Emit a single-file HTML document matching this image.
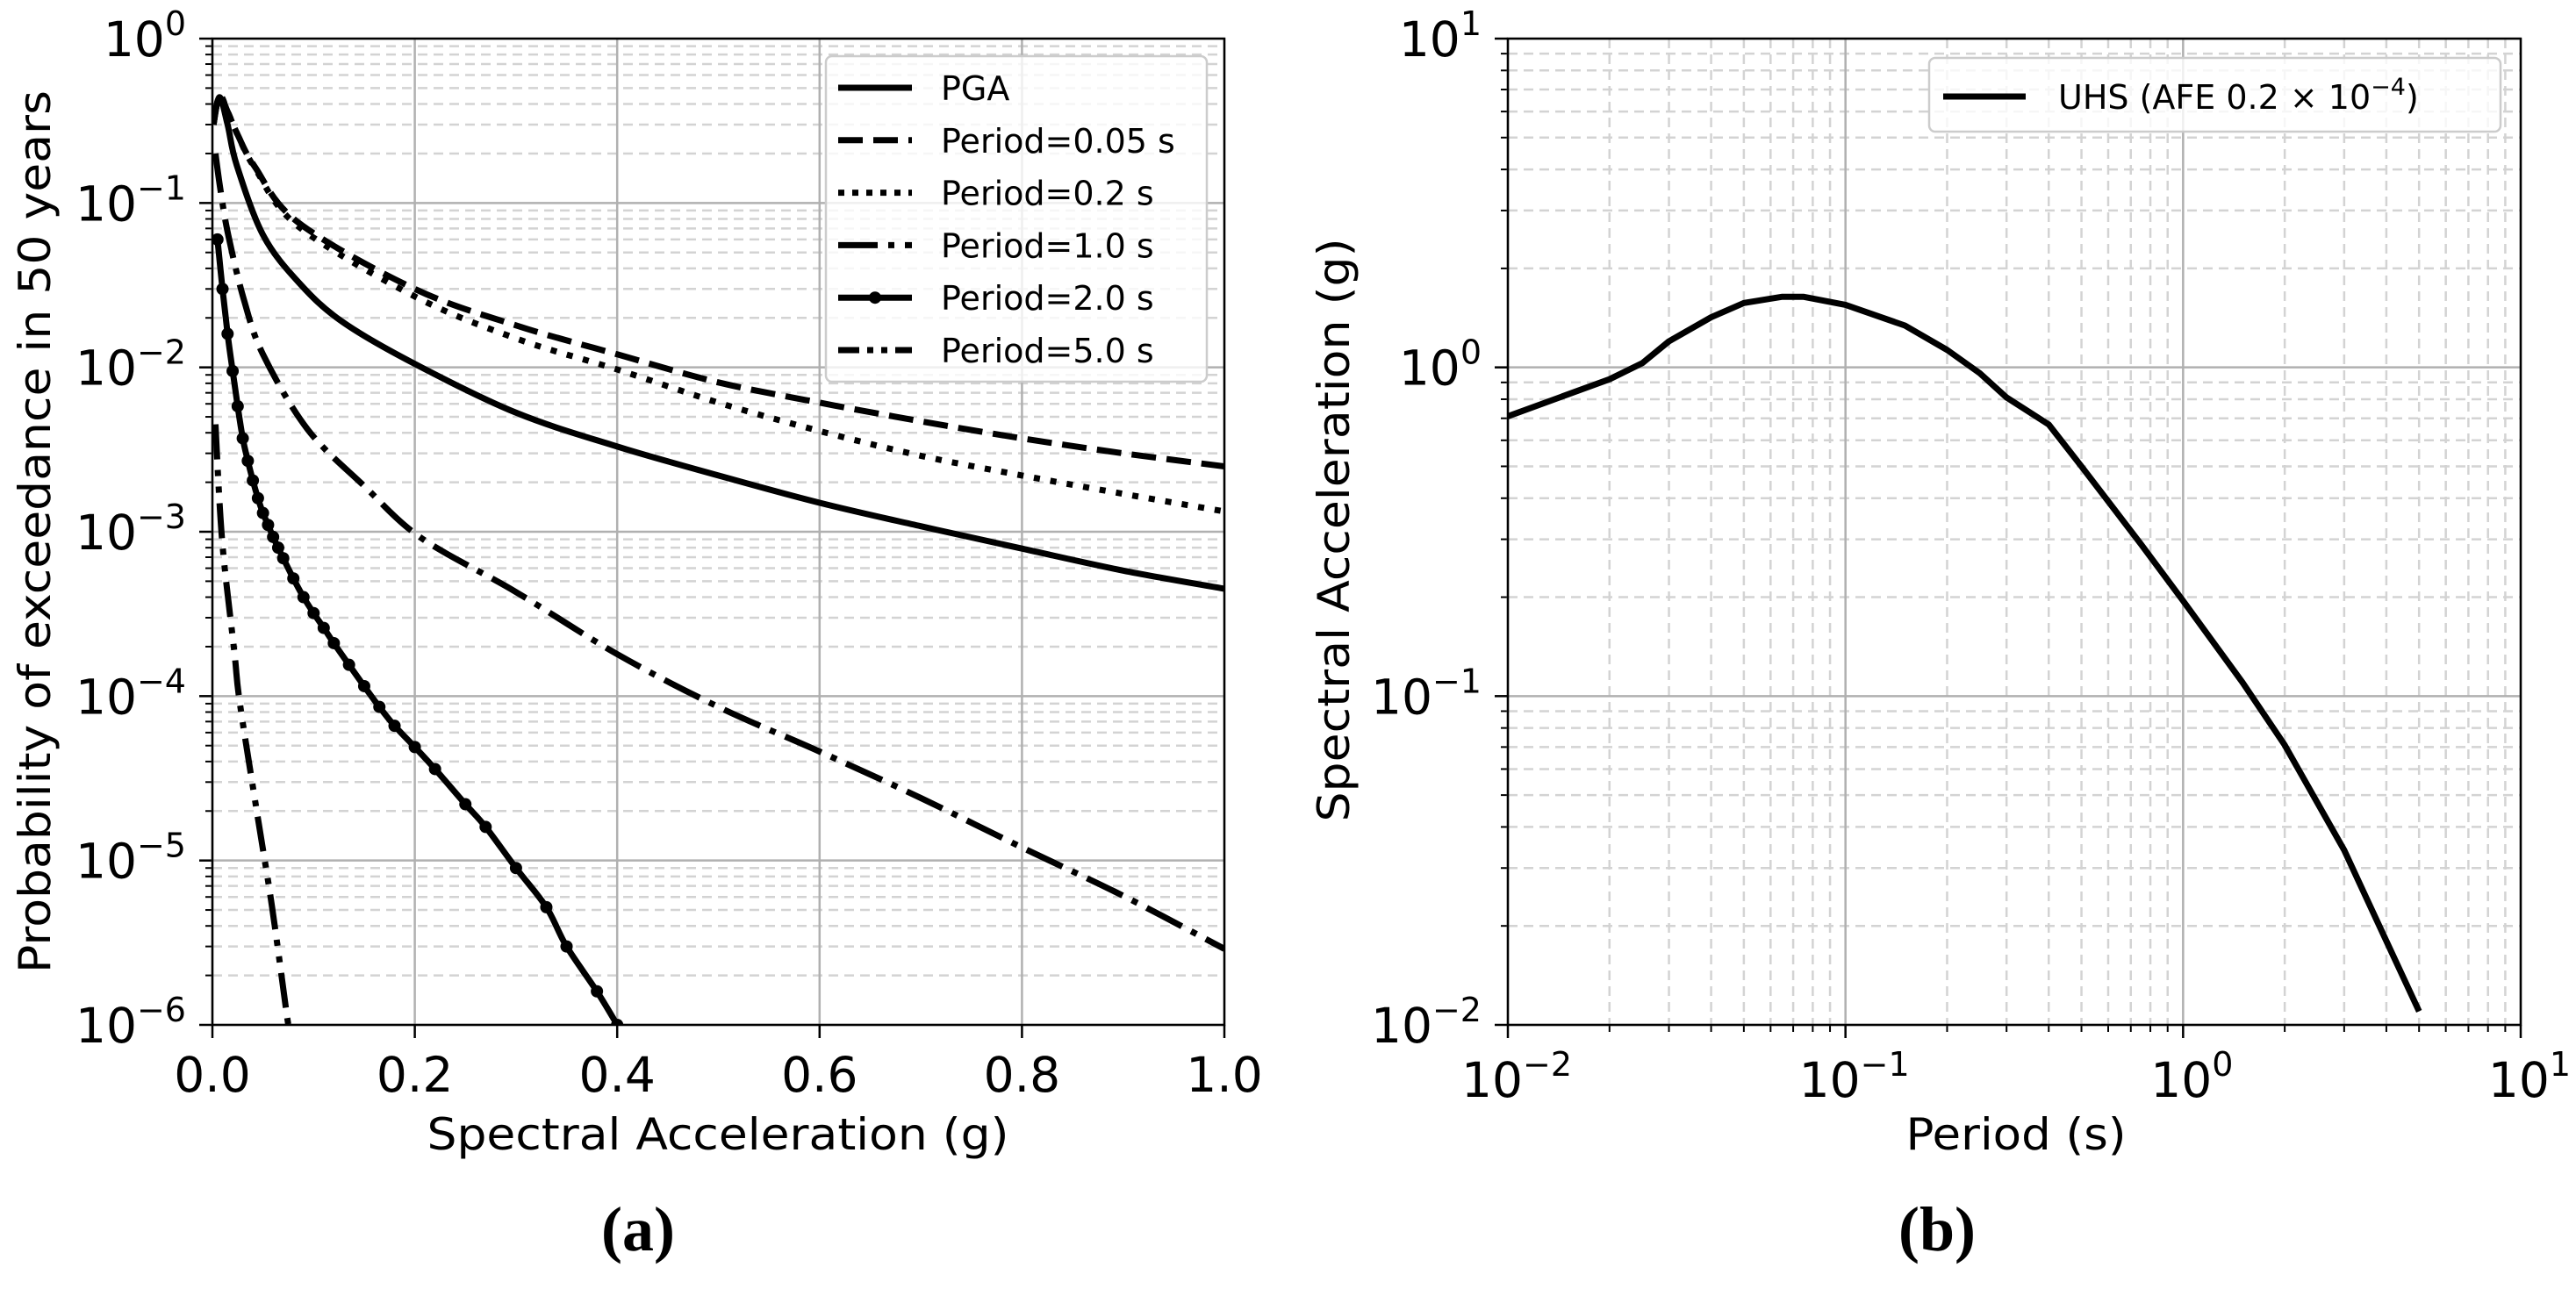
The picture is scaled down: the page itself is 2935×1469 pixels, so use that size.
<!DOCTYPE html>
<html><head><meta charset="utf-8"><style>
html,body{margin:0;padding:0;background:#fff;}
svg{display:block;font-family:"DejaVu Sans","Liberation Sans",sans-serif;}
</style></head><body>
<svg id="fig" width="2935" height="1469" viewBox="0 0 2935 1469" xmlns="http://www.w3.org/2000/svg"></svg>
<script>
// ---- Panel (a) data ----
const pgaX = [0.001,0.007,0.015,0.024,0.05,0.085,0.128,0.2,0.3,0.4,0.5,0.6,0.7,0.8,0.9,1.0];
const pgaY = [0.3,0.44,0.30,0.17,0.064,0.033,0.019,0.0105,5.3e-3,3.3e-3,2.2e-3,1.5e-3,1.08e-3,7.9e-4,5.8e-4,4.5e-4];
const p005X = [0.001,0.007,0.015,0.025,0.042,0.085,0.2,0.3,0.4,0.5,0.6,0.7,0.8,0.9,1.0];
const p005Y = [0.3,0.45,0.36,0.26,0.166,0.076,0.03,0.018,0.012,8.1e-3,6.1e-3,4.7e-3,3.7e-3,3.0e-3,2.5e-3];
const p02X = [0.001,0.007,0.015,0.025,0.042,0.085,0.2,0.3,0.4,0.5,0.6,0.7,0.8,0.9,1.0];
const p02Y = [0.3,0.45,0.36,0.26,0.163,0.072,0.027,0.015,9.7e-3,6.1e-3,4.1e-3,2.9e-3,2.2e-3,1.7e-3,1.33e-3];
const p1X = [0.003,0.008,0.0156,0.031,0.05,0.094,0.15,0.206,0.3,0.4,0.5,0.6,0.7,0.8,0.9,1.0];
const p1Y = [0.2,0.12,0.064,0.026,0.012,4.2e-3,1.9e-3,9.2e-4,4.3e-4,1.8e-4,8.6e-5,4.6e-5,2.4e-5,1.2e-5,6.1e-6,2.9e-6];
const p2X = [0.005,0.01,0.015,0.02,0.025,0.03,0.035,0.04,0.045,0.05,0.055,0.06,0.065,0.07,0.08,0.09,0.1,0.11,0.12,0.135,0.15,0.165,0.18,0.2,0.22,0.25,0.27,0.3,0.33,0.35,0.38,0.4];
const p2Y = [0.06,0.03,0.016,0.0095,5.8e-3,3.7e-3,2.7e-3,2.05e-3,1.6e-3,1.3e-3,1.1e-3,9.3e-4,8e-4,6.9e-4,5.2e-4,4e-4,3.2e-4,2.6e-4,2.1e-4,1.55e-4,1.15e-4,8.6e-5,6.6e-5,4.9e-5,3.6e-5,2.2e-5,1.6e-5,9e-6,5.2e-6,3e-6,1.6e-6,1e-6];
const p5X = [0.003,0.0097,0.0217,0.027,0.045,0.059,0.074,0.076];
const p5Y = [4.5e-3,8.7e-4,1.86e-4,9.2e-5,1.8e-5,5.2e-6,1.1e-6,1e-6];
const aXTicks = [0,0.2,0.4,0.6,0.8,1.0];
const aXTickLabels = ["0.0","0.2","0.4","0.6","0.8","1.0"];
const aYExps = [0,-1,-2,-3,-4,-5,-6];
// ---- Panel (b) data ----
const uhsT = [0.01,0.02,0.025,0.03,0.04,0.05,0.065,0.075,0.1,0.15,0.2,0.25,0.3,0.4,0.5,0.75,1.0,1.5,2.0,3.0,4.0,5.0];
const uhsSA = [0.71,0.92,1.03,1.2,1.42,1.57,1.64,1.64,1.55,1.34,1.13,0.96,0.81,0.67,0.50,0.29,0.195,0.11,0.071,0.034,0.018,0.011];
const bExps = [-2,-1,0,1];

const NS="http://www.w3.org/2000/svg";
const svg=document.getElementById('fig');
function mk(tag,attrs,parent){const e=document.createElementNS(NS,tag);for(const k in attrs)e.setAttribute(k,attrs[k]);(parent||svg).appendChild(e);return e;}

const A={l:242,r:1395,t:44,b:1168};
const B={l:1718,r:2872,t:44,b:1168};
const ax=v=>A.l+(v-0)/(1-0)*(A.r-A.l);
const ay=v=>A.b-(Math.log10(v)+6)/6*(A.b-A.t);
const bx=v=>B.l+(Math.log10(v)+2)/3*(B.r-B.l);
const by=v=>B.b-(Math.log10(v)+2)/3*(B.b-B.t);

function smoothPath(P){
  let d='M'+P[0][0].toFixed(1)+','+P[0][1].toFixed(1);
  for(let i=0;i<P.length-1;i++){
    const p0=P[Math.max(0,i-1)],p1=P[i],p2=P[i+1],p3=P[Math.min(P.length-1,i+2)];
    const c1=[p1[0]+(p2[0]-p0[0])/6,p1[1]+(p2[1]-p0[1])/6];
    const c2=[p2[0]-(p3[0]-p1[0])/6,p2[1]-(p3[1]-p1[1])/6];
    d+=' C'+c1[0].toFixed(1)+','+c1[1].toFixed(1)+' '+c2[0].toFixed(1)+','+c2[1].toFixed(1)+' '+p2[0].toFixed(1)+','+p2[1].toFixed(1);
  }
  return d;
}

function supLabel(parent,x,y,exp,anchor){
  const t=mk('text',{x:x,y:y,'font-size':55,'text-anchor':anchor,fill:'#000'},parent);
  t.appendChild(document.createTextNode('10'));
  const s=mk('tspan',{'font-size':38,dy:-24},t);
  s.textContent=(exp<0?'\u2212':'')+Math.abs(exp);
  return t;
}

// ===== Panel A =====
const gA=mk('g',{});


const gridA=mk('g',{},gA);


for(let e=-6;e<0;e++){for(let m=2;m<=9;m++){const y=ay(m*Math.pow(10,e));
  mk('line',{x1:A.l,x2:A.r,y1:y,y2:y,stroke:'#d3d3d3','stroke-width':2.5,'stroke-dasharray':'11 7'},gridA);
  mk('line',{x1:A.l-8,x2:A.l,y1:y,y2:y,stroke:'#000','stroke-width':2},gridA);}}
aYExps.forEach(e=>{const y=ay(Math.pow(10,e));
  mk('line',{x1:A.l,x2:A.r,y1:y,y2:y,stroke:'#b0b0b0','stroke-width':2.5},gridA);
  mk('line',{x1:A.l-15,x2:A.l,y1:y,y2:y,stroke:'#000','stroke-width':2.5},gridA);
  const t=supLabel(gA,212,y+20,e,'end');
  
  
});
aXTicks.forEach((v,i)=>{const x=ax(v);
  mk('line',{x1:x,x2:x,y1:A.t,y2:A.b,stroke:'#b0b0b0','stroke-width':2.5},gridA);
  mk('line',{x1:x,x2:x,y1:A.b,y2:A.b+15,stroke:'#000','stroke-width':2.5},gridA);
  const t=mk('text',{x:x,y:A.b+76,'font-size':55,'text-anchor':'middle'},gA);
  t.textContent=aXTickLabels[i];
  
  
});
const clipA=mk('clipPath',{id:'clipA'},gA);mk('rect',{x:A.l,y:A.t,width:A.r-A.l,height:A.b-A.t},clipA);
const seriesA=[
  {n:'pga',x:pgaX,y:pgaY,d:''},
  {n:'period-0.05s',x:p005X,y:p005Y,d:'28 12'},
  {n:'period-0.2s',x:p02X,y:p02Y,d:'7 12'},
  {n:'period-1.0s',x:p1X,y:p1Y,d:'45 12 7 12'},
  {n:'period-2.0s',x:p2X,y:p2Y,d:'',m:true},
  {n:'period-5.0s',x:p5X,y:p5Y,d:'40 12 7 12 7 12'}
];
const linesA=mk('g',{'clip-path':'url(#clipA)'},gA);
seriesA.forEach(s=>{
  const P=s.x.map((v,i)=>[ax(v),ay(s.y[i])]);
  const p=mk('path',{d:smoothPath(P),fill:'none',stroke:'#000','stroke-width':7,'stroke-linejoin':'round'},linesA);
  if(s.d)p.setAttribute('stroke-dasharray',s.d);
  
  
  if(s.m){s.x.forEach((v,i)=>{const c=mk('circle',{cx:ax(v),cy:ay(s.y[i]),r:7,fill:'#000'},linesA);
    
    });}
});
mk('rect',{x:A.l,y:A.t,width:A.r-A.l,height:A.b-A.t,fill:'none',stroke:'#000','stroke-width':2.5},gA);
const legA=mk('g',{},gA);


mk('rect',{x:941,y:64,width:434,height:371,rx:7,fill:'#fff','fill-opacity':0.8,stroke:'#ccc','stroke-width':2.5},legA);
const legLabels=['PGA','Period=0.05 s','Period=0.2 s','Period=1.0 s','Period=2.0 s','Period=5.0 s'];
const legDash=['','28 12','7 9','45 12 7 12','','24 9 7 9 7 9'];
legLabels.forEach((lab,i)=>{const y=100+i*59.8;
  const g=mk('g',{},legA);
  
  
  const l=mk('line',{x1:955,x2:1039,y1:y,y2:y,stroke:'#000','stroke-width':7},g);
  if(legDash[i])l.setAttribute('stroke-dasharray',legDash[i]);
  if(i===4)mk('circle',{cx:997,cy:y,r:7,fill:'#000'},g);
  const t=mk('text',{x:1072,y:y+14,'font-size':38},g);t.textContent=lab;
});
let t=mk('text',{x:0,y:0,'font-size':50,'text-anchor':'middle',transform:'translate(57,606) rotate(-90)',textLength:1006,lengthAdjust:'spacingAndGlyphs'},gA);
t.textContent='Probability of exceedance in 50 years';

t=mk('text',{x:818,y:1310,'font-size':50,'text-anchor':'middle',textLength:663,lengthAdjust:'spacingAndGlyphs'},gA);
t.textContent='Spectral Acceleration (g)';

t=mk('text',{x:727,y:1425,'font-size':72,'font-weight':'bold','text-anchor':'middle','font-family':'"Liberation Serif",serif'},gA);
t.textContent='(a)';


// ===== Panel B =====
const gB=mk('g',{});


const gridB=mk('g',{},gB);


for(let e=-2;e<1;e++){for(let m=2;m<=9;m++){const v=m*Math.pow(10,e);const y=by(v),x=bx(v);
  mk('line',{x1:B.l,x2:B.r,y1:y,y2:y,stroke:'#d3d3d3','stroke-width':2.5,'stroke-dasharray':'11 7'},gridB);
  mk('line',{x1:x,x2:x,y1:B.t,y2:B.b,stroke:'#d3d3d3','stroke-width':2.5,'stroke-dasharray':'11 7'},gridB);
  mk('line',{x1:B.l-8,x2:B.l,y1:y,y2:y,stroke:'#000','stroke-width':2},gridB);
  mk('line',{x1:x,x2:x,y1:B.b,y2:B.b+8,stroke:'#000','stroke-width':2},gridB);}}
bExps.forEach(e=>{const v=Math.pow(10,e);const y=by(v),x=bx(v);
  mk('line',{x1:B.l,x2:B.r,y1:y,y2:y,stroke:'#b0b0b0','stroke-width':2.5},gridB);
  mk('line',{x1:x,x2:x,y1:B.t,y2:B.b,stroke:'#b0b0b0','stroke-width':2.5},gridB);
  mk('line',{x1:B.l-15,x2:B.l,y1:y,y2:y,stroke:'#000','stroke-width':2.5},gridB);
  mk('line',{x1:x,x2:x,y1:B.b,y2:B.b+15,stroke:'#000','stroke-width':2.5},gridB);
  let a=supLabel(gB,1688,y+20,e,'end');
  let b=supLabel(gB,x+10,B.b+82,e,'middle');
});
const uhs=mk('polyline',{points:uhsT.map((v,i)=>bx(v).toFixed(1)+','+by(uhsSA[i]).toFixed(1)).join(' '),fill:'none',stroke:'#000','stroke-width':7,'stroke-linejoin':'round'},gB);


mk('rect',{x:B.l,y:B.t,width:B.r-B.l,height:B.b-B.t,fill:'none',stroke:'#000','stroke-width':2.5},gB);
const legB=mk('g',{},gB);


mk('rect',{x:2198,y:66,width:651,height:84,rx:7,fill:'#fff','fill-opacity':0.8,stroke:'#ccc','stroke-width':2.5},legB);
mk('line',{x1:2214,x2:2308,y1:110,y2:110,stroke:'#000','stroke-width':7},legB);
t=mk('text',{x:2345,y:124,'font-size':38},legB);
t.appendChild(document.createTextNode('UHS (AFE 0.2 \u00d7 10'));
let sp=mk('tspan',{'font-size':27,dy:-16},t);sp.textContent='\u22124';
sp=mk('tspan',{dy:16},t);sp.textContent=')';
t=mk('text',{x:0,y:0,'font-size':50,'text-anchor':'middle',transform:'translate(1537,604) rotate(-90)',textLength:665,lengthAdjust:'spacingAndGlyphs'},gB);
t.textContent='Spectral Acceleration (g)';

t=mk('text',{x:2297,y:1310,'font-size':50,'text-anchor':'middle',textLength:251,lengthAdjust:'spacingAndGlyphs'},gB);
t.textContent='Period (s)';

t=mk('text',{x:2207,y:1425,'font-size':72,'font-weight':'bold','text-anchor':'middle','font-family':'"Liberation Serif",serif'},gB);
t.textContent='(b)';

</script>
</body></html>
